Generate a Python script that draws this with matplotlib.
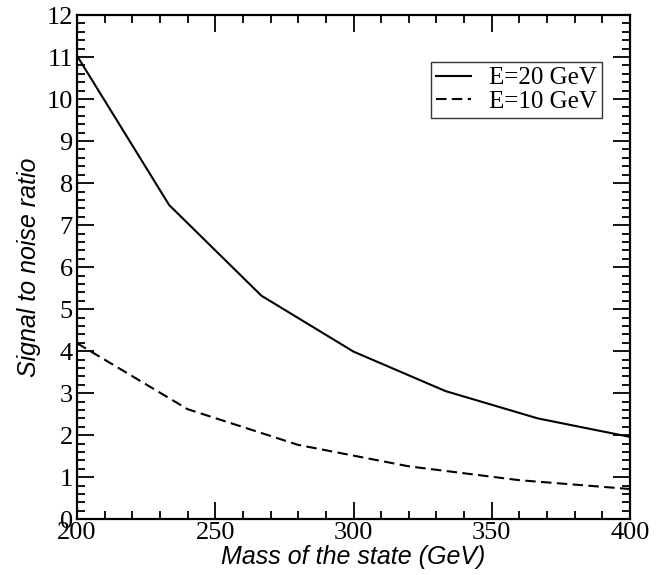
import matplotlib
matplotlib.use("Agg")
import matplotlib.pyplot as plt
from matplotlib.ticker import MultipleLocator

mass_20 = [200, 233.3, 266.7, 300, 333.3, 366.7, 400]
snr_20 = [11.03, 7.48, 5.32, 3.99, 3.05, 2.40, 1.96]
mass_10 = [200, 240, 280, 320, 360, 400]
snr_10 = [4.19, 2.62, 1.77, 1.26, 0.93, 0.72]
labels = ["E=20 GeV", "E=10 GeV"]

fig = plt.figure(figsize=(6.68, 5.75), dpi=100)
ax = fig.add_axes([0.1153, 0.0969, 0.8278, 0.8770])

ax.plot(mass_20, snr_20, color="black", lw=1.5, label=labels[0])
ax.plot(mass_10, snr_10, color="black", lw=1.5, linestyle=(0, (5, 2.6)), label=labels[1])

ax.set_xlim(200, 400)
ax.set_ylim(0, 12)
ax.xaxis.set_major_locator(MultipleLocator(50))
ax.xaxis.set_minor_locator(MultipleLocator(10))
ax.yaxis.set_major_locator(MultipleLocator(1))
ax.yaxis.set_minor_locator(MultipleLocator(0.2))

ax.tick_params(which="both", direction="in", top=True, right=True, width=1.3, color="black")
ax.tick_params(which="major", length=12)
ax.tick_params(which="minor", length=6)
ax.tick_params(axis="both", which="major", labelsize=19, pad=3)
ax.tick_params(axis="x", which="major", pad=2)
for lab in ax.get_xticklabels() + ax.get_yticklabels():
    lab.set_family("Liberation Serif")
for s in ax.spines.values():
    s.set_linewidth(1.6)

ax.set_xlabel("Mass of the state (GeV)", fontsize=18, family="Liberation Sans", style="italic", labelpad=1)
ax.set_ylabel("Signal to noise ratio", fontsize=18, family="Liberation Sans", style="italic", labelpad=4)

leg = ax.legend(loc="upper right", bbox_to_anchor=(0.949, 0.907), prop={"family": "Liberation Serif", "size": 18},
                frameon=True, fancybox=False, edgecolor="black", handlelength=1.4, handletextpad=0.7,
                borderpad=0.2, labelspacing=0.05, borderaxespad=0)
leg.get_frame().set_linewidth(1.0)

fig.savefig("out.png", dpi=100)
